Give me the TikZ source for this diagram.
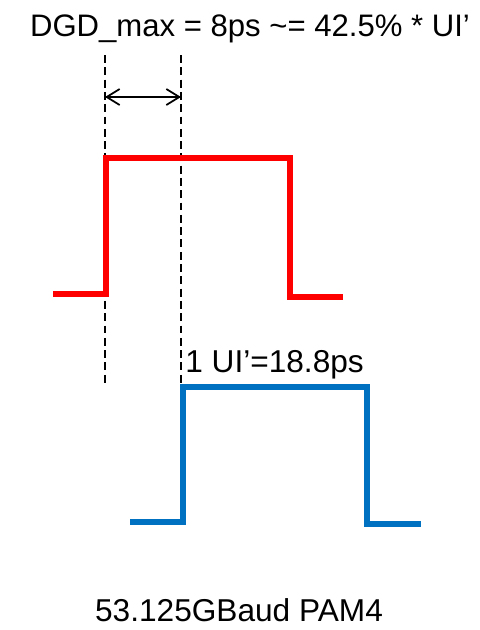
\documentclass[tikz,border=0pt]{standalone}
\usepackage{fontspec}
\setmainfont{Liberation Sans}
\usetikzlibrary{arrows.meta}
\definecolor{sigred}{RGB}{255,0,0}
\definecolor{sigblue}{RGB}{0,112,192}

\begin{document}
\begin{tikzpicture}[
  x=0.02cm, y=-0.02cm,
  font=\fontsize{18}{21}\selectfont,
  puls/.style={line width=2.9pt},
  hilfs/.style={line width=0.9pt, dash pattern=on 4.5pt off 2.5pt},
  mass/.style={{Straight Barb[length=2.6mm, width=3.2mm]}-{Straight Barb[length=2.6mm, width=3.2mm]}, line width=1pt}
]
\useasboundingbox (0,0) rectangle (480,630);

% ---------- Ueberschrift -----------------------------------------
\node[anchor=base, inner sep=0pt, font=\fontsize{17.7}{20}\selectfont] (titel) at (250,36)
  {DGD\_max = 8ps \textasciitilde= 42.5\% * UI’};

% ---------- Hilfslinien und Massspfeil ---------------------------
\coordinate (h1o) at (105,55);
\coordinate (h1u) at (105,385);
\coordinate (h2o) at (181,55);
\coordinate (h2u) at (181,388);
\draw[hilfs] (h1o) -- (h1u);
\draw[hilfs] (h2o) -- (h2u);
\coordinate (m1) at (105,97);
\coordinate (m2) at (181,97);
\draw[mass] (m1) -- (m2);

% ---------- roter Puls -------------------------------------------
\draw[puls, sigred] (53,294) -- (106,294) -- (106,158) -- (290,158)
  -- (290,297) -- (343,297);

% ---------- blauer Puls ------------------------------------------
\draw[puls, sigblue] (130,522) -- (183,522) -- (183,387) -- (367,387)
  -- (367,524) -- (421,524);
\node[anchor=base west, inner sep=0pt] (ui) at (185,372) {1 UI’=18.8ps};

% ---------- Unterschrift -----------------------------------------
\node[anchor=base, inner sep=0pt] (baud) at (239,621) {53.125GBaud PAM4};

\end{tikzpicture}
\end{document}
